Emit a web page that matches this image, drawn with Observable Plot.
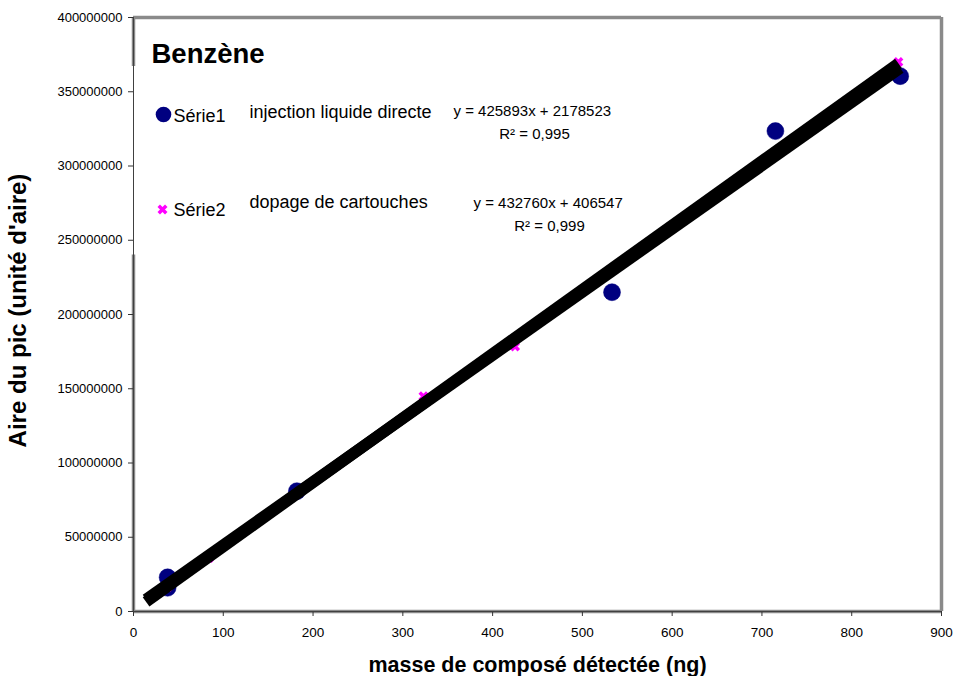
<!DOCTYPE html>
<html>
<head>
<meta charset="utf-8">
<script src="https://cdn.jsdelivr.net/npm/d3@7"></script>
<script src="https://cdn.jsdelivr.net/npm/@observablehq/plot@0.6"></script>
<style>
  html, body { margin: 0; padding: 0; background: #fff; }
  #chart svg { display: block; }
</style>
</head>
<body>
<div id="chart"></div>
<script>
// Série1 : injection liquide directe
const serie1Mass = [38, 38, 182, 533, 715, 854];
const serie1Area = [23000000, 16000000, 81000000, 215000000, 323500000, 360500000];
// Série2 : dopage de cartouches
const serie2Mass = [38, 84, 323, 425, 852];
const serie2Area = [16500000, 36000000, 145000000, 178500000, 370000000];
// Trend lines (Excel linear fits)
const trend1 = {slope: 425893, intercept: 2178523, from: 14, to: 854};
const trend2 = {slope: 432760, intercept: 406547, from: 14, to: 852};
// Tick labels
const xTicks = [0, 100, 200, 300, 400, 500, 600, 700, 800, 900];
const yTicks = [0, 50000000, 100000000, 150000000, 200000000, 250000000, 300000000, 350000000, 400000000];
// Texts
const chartTitle = "Benzène";
const seriesNames = ["Série1", "Série2"];
const seriesDesc = ["injection liquide directe", "dopage de cartouches"];
const equations = ["y = 425893x + 2178523", "y = 432760x + 406547"];
const r2Texts = ["R² = 0,995", "R² = 0,999"];
const xTitle = "masse de composé détectée (ng)";
const yTitle = "Aire du pic (unité d'aire)";

const s1 = serie1Mass.map((m, i) => ({x: m, y: serie1Area[i]}));
const s2 = serie2Mass.map((m, i) => ({x: m, y: serie2Area[i]}));
const lineOf = t => [t.from, t.to].map(x => ({x, y: t.slope * x + t.intercept}));

const NAVY = "#000080", MAG = "#ff00ff", GRAY = "#8a8a8a";
const font = "'Liberation Sans', Arial, Helvetica, sans-serif";

const chart = Plot.plot({
  width: 956,
  height: 676,
  marginLeft: 133,
  marginRight: 15,
  marginTop: 17,
  marginBottom: 65,
  style: {fontFamily: font, background: "#fff", color: "#000", overflow: "visible"},
  x: {domain: [0, 900]},
  y: {domain: [0, 400000000]},
  marks: [
    // plot-area border (gray)
    Plot.ruleY([400000000], {stroke: GRAY, strokeWidth: 3.5}),
    Plot.ruleX([900], {stroke: GRAY, strokeWidth: 3.5}),
    Plot.ruleY([0], {stroke: GRAY, strokeWidth: 3.5}),
    Plot.ruleX([{a: 367000000, b: 400000000}, {a: 0, b: 240000000}], {x: () => 0, y1: "a", y2: "b", stroke: GRAY, strokeWidth: 3.5}),
    // axes
    Plot.axisX({ticks: xTicks, tickFormat: d3.format("d"), tickSize: 5, tickPadding: 11, fontSize: 13.5, label: null, stroke: "#333"}),
    Plot.axisY({ticks: yTicks, tickFormat: d3.format("d"), tickSize: 5, tickPadding: 6, fontSize: 13, label: null, stroke: "#333"}),
    Plot.ruleX([0], {stroke: "#404040", strokeWidth: 1}),
    Plot.ruleY([0], {stroke: "#404040", strokeWidth: 1}),
    // data
    Plot.dot(s1, {x: "x", y: "y", r: 8.5, fill: NAVY, stroke: NAVY, strokeWidth: 0.5}),
    Plot.dot(s2, {x: "x", y: "y", r: 3.5, symbol: "times", stroke: MAG, strokeWidth: 3.5}),
    // trend lines
    Plot.line(lineOf(trend1), {x: "x", y: "y", stroke: "#000", strokeWidth: 11.5, strokeLinecap: "butt"}),
    Plot.line(lineOf(trend2), {x: "x", y: "y", stroke: "#000", strokeWidth: 11.5, strokeLinecap: "butt"}),
    // legend / annotations
    Plot.text([chartTitle], {frameAnchor: "top-left", dx: 18, dy: 45, text: d => d, fontSize: 27.5, fontWeight: "bold", textAnchor: "start", lineAnchor: "bottom", fill: "#000"}),
    Plot.dot([0], {frameAnchor: "top-left", dx: 30, dy: 97, r: 7.8, fill: NAVY}),
    Plot.dot([0], {frameAnchor: "top-left", dx: 29, dy: 192, r: 3.5, symbol: "times", stroke: MAG, strokeWidth: 3.5}),
    Plot.text([seriesNames[0]], {frameAnchor: "top-left", dx: 40, dy: 104, text: d => d, fontSize: 18, textAnchor: "start", lineAnchor: "bottom", fill: "#000"}),
    Plot.text([seriesNames[1]], {frameAnchor: "top-left", dx: 40, dy: 198, text: d => d, fontSize: 18, textAnchor: "start", lineAnchor: "bottom", fill: "#000"}),
    Plot.text([seriesDesc[0]], {frameAnchor: "top-left", dx: 116, dy: 100, text: d => d, fontSize: 18, textAnchor: "start", lineAnchor: "bottom", fill: "#000"}),
    Plot.text([seriesDesc[1]], {frameAnchor: "top-left", dx: 116, dy: 190, text: d => d, fontSize: 18, textAnchor: "start", lineAnchor: "bottom", fill: "#000"}),
    Plot.text([equations[0]], {frameAnchor: "top-left", dx: 320, dy: 98, text: d => d, fontSize: 15, textAnchor: "start", lineAnchor: "bottom", fill: "#000"}),
    Plot.text([equations[1]], {frameAnchor: "top-left", dx: 340, dy: 190, text: d => d, fontSize: 15, textAnchor: "start", lineAnchor: "bottom", fill: "#000"}),
    Plot.text([r2Texts[0]], {frameAnchor: "top-left", dx: 401, dy: 121, text: d => d, fontSize: 15, textAnchor: "middle", lineAnchor: "bottom", fill: "#000"}),
    Plot.text([r2Texts[1]], {frameAnchor: "top-left", dx: 416, dy: 213, text: d => d, fontSize: 15, textAnchor: "middle", lineAnchor: "bottom", fill: "#000"}),
    // axis titles
    Plot.text([xTitle], {frameAnchor: "bottom", dy: 60, text: d => d, fontSize: 21.5, fontWeight: "bold", textAnchor: "middle", lineAnchor: "bottom", fill: "#000"}),
    Plot.text([yTitle], {frameAnchor: "left", dx: -115, dy: -4, text: d => d, fontSize: 24, fontWeight: "bold", rotate: -90, textAnchor: "middle", lineAnchor: "middle", fill: "#000"})
  ]
});
document.getElementById("chart").appendChild(chart);
</script>
</body>
</html>
